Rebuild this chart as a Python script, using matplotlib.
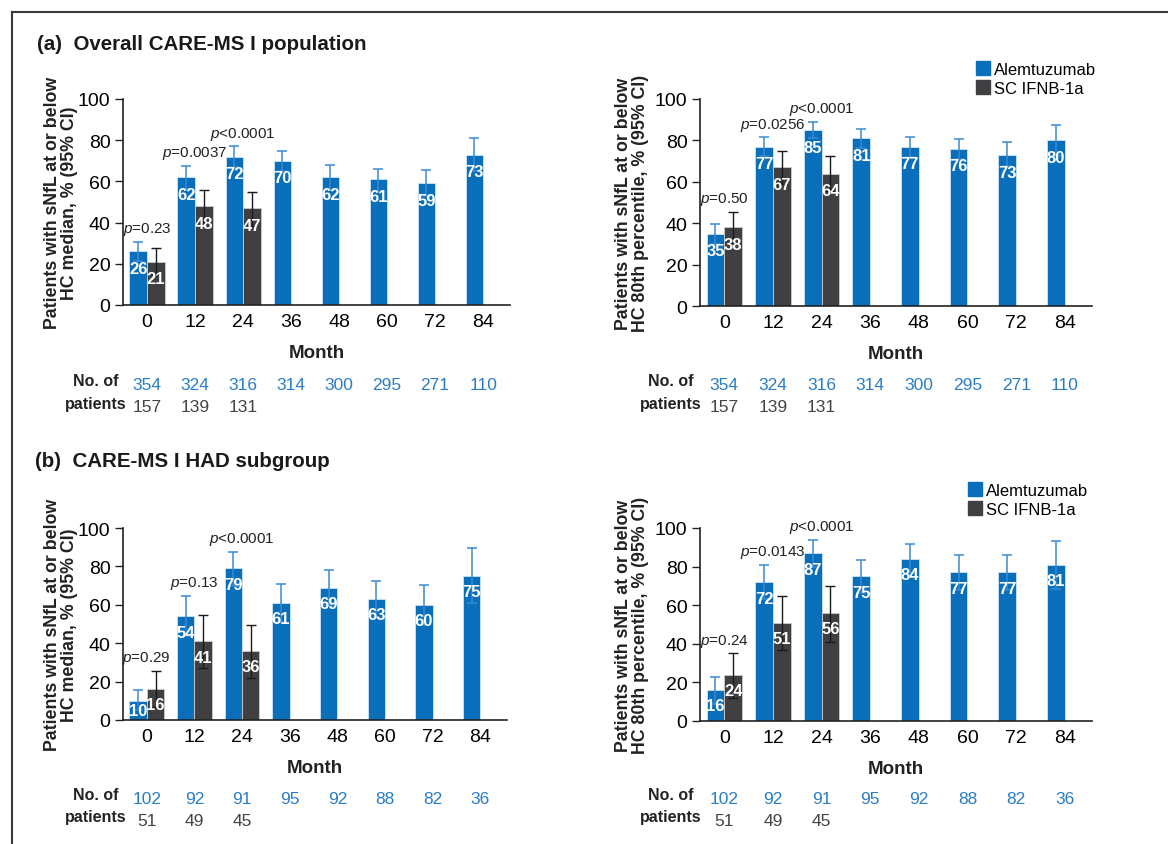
import matplotlib.pyplot as plt
import matplotlib.lines as mlines

plt.rcParams['font.family'] = ['Liberation Sans', 'DejaVu Sans']
plt.rcParams['mathtext.fontset'] = 'custom'
plt.rcParams['mathtext.it'] = 'Liberation Sans:italic'
plt.rcParams['mathtext.rm'] = 'Liberation Sans'

months = ['0', '12', '24', '36', '48', '60', '72', '84']

# (a) overall, HC median
a_med_alem = [26, 62, 72, 70, 62, 61, 59, 73]
a_med_alem_lo = [21.5, 56.5, 67, 65, 56, 55.5, 53, 65]
a_med_alem_hi = [30.5, 67.5, 77, 75, 68, 66, 65.5, 81]
a_med_ifn = [21, 48, 47]
a_med_ifn_lo = [15, 40, 38.5]
a_med_ifn_hi = [27.5, 56, 55]
a_med_p = ['=0.23', '=0.0037', '<0.0001']

# (a) overall, HC 80th percentile
a_p80_alem = [35, 77, 85, 81, 77, 76, 73, 80]
a_p80_alem_lo = [30, 72.5, 81, 76.5, 72, 71, 67.5, 72.5]
a_p80_alem_hi = [39.5, 81.5, 89, 85.5, 81.5, 80.5, 79, 87.5]
a_p80_ifn = [38, 67, 64]
a_p80_ifn_lo = [30.5, 59, 55.5]
a_p80_ifn_hi = [45.5, 75, 72.5]
a_p80_p = ['=0.50', '=0.0256', '<0.0001']

# (b) HAD subgroup, HC median
b_med_alem = [10, 54, 79, 61, 69, 63, 60, 75]
b_med_alem_lo = [5, 44, 70, 51, 60, 53, 49.5, 61]
b_med_alem_hi = [15.5, 64.5, 87.5, 71, 78, 72.5, 70.5, 89.5]
b_med_ifn = [16, 41, 36]
b_med_ifn_lo = [7, 27, 22]
b_med_ifn_hi = [25.5, 54.5, 49.5]
b_med_p = ['=0.29', '=0.13', '<0.0001']

# (b) HAD subgroup, HC 80th percentile
b_p80_alem = [16, 72, 87, 75, 84, 77, 77, 81]
b_p80_alem_lo = [9, 63, 80, 66.5, 76.5, 68, 68, 68.5]
b_p80_alem_hi = [23, 81, 94, 83.5, 91.5, 86, 86, 93.5]
b_p80_ifn = [24, 51, 56]
b_p80_ifn_lo = [12, 37, 41]
b_p80_ifn_hi = [35, 65, 70]
b_p80_p = ['=0.24', '=0.0143', '<0.0001']

a_n_alem = ['354', '324', '316', '314', '300', '295', '271', '110']
a_n_ifn = ['157', '139', '131']
b_n_alem = ['102', '92', '91', '95', '92', '88', '82', '36']
b_n_ifn = ['51', '49', '45']

BLUE = '#0a6fba'
BLUE_ERR = '#3a8ad6'
GRAY = '#404042'
NUM_BLUE = '#2a7dc6'
NUM_GRAY = '#444444'

W, H = 1168, 845
fig = plt.figure(figsize=(W / 100, H / 100), dpi=100)


def px_axes(left, top, right, bottom):
    return fig.add_axes([left / W, 1 - bottom / H, (right - left) / W, (bottom - top) / H])


def panel(box, alem, alo, ahi, ifn, ilo, ihi, pvals, ylab, ylab_x, n_alem, n_ifn,
          no_x, row_y, legend_xy=None):
    left, top, right, bottom = box
    ax = px_axes(left, top, right, bottom)
    x = list(range(len(months)))
    bw = 0.365
    xa = [i - bw / 2 for i in x]
    xi = [i + bw / 2 for i in x[:len(ifn)]]
    ax.bar(xa, alem, bw, color=BLUE, edgecolor='#cfe3f5', linewidth=0.6, zorder=2)
    ax.bar(xi, ifn, bw, color=GRAY, edgecolor='#cccccc', linewidth=0.6, zorder=2)
    ax.errorbar(xa, alem, yerr=[[a - l for a, l in zip(alem, alo)], [h - a for a, h in zip(alem, ahi)]],
                fmt='none', ecolor=BLUE_ERR, elinewidth=1.1, capsize=3.5, capthick=1.1, zorder=3)
    ax.errorbar(xi, ifn, yerr=[[a - l for a, l in zip(ifn, ilo)], [h - a for a, h in zip(ifn, ihi)]],
                fmt='none', ecolor='#1a1a1a', elinewidth=1.0, capsize=3.5, capthick=1.0, zorder=3)
    for xx, v in list(zip(xa, alem)) + list(zip(xi, ifn)):
        ypos = max(v - 8.3, v * 0.5)
        ax.text(xx, ypos, str(v), ha='center', va='center', color='white',
                fontsize=12, fontweight='bold', zorder=4)
    for i, p in enumerate(pvals):
        top_ci = max(ahi[i], ihi[i])
        ax.annotate('$p$' + p, (x[i], top_ci), xytext=(0, 9.5), textcoords='offset points',
                    ha='center', va='center', fontsize=11, color='#222222')
    ax.set_ylim(0, 100)
    ax.set_xlim(-0.5, 7.56)
    ax.set_yticks([0, 20, 40, 60, 80, 100])
    ax.set_xticks(x)
    ax.set_xticklabels(months)
    ax.tick_params(axis='y', direction='out', length=6, width=1, labelsize=14, pad=3, color='#222222')
    ax.tick_params(axis='x', length=0, labelsize=14, pad=6)
    for s in ['top', 'right']:
        ax.spines[s].set_visible(False)
    for s in ['left', 'bottom']:
        ax.spines[s].set_linewidth(1.2)
        ax.spines[s].set_color('#222222')
    ax.patch.set_alpha(0)

    cy = (top + bottom) / 2
    fig.text(ylab_x / W, 1 - cy / H, ylab, rotation=90, ha='center', va='center',
             fontsize=12.8, fontweight='bold', linespacing=1.05, color='#222222')
    fig.text((left + right) / 2 / W, 1 - (bottom + 48) / H, 'Month', ha='center', va='center',
             fontsize=13.5, fontweight='bold', color='#222222')

    # number-of-patients table
    fig.text(no_x / W, 1 - (row_y - 4) / H, 'No. of', ha='center', va='center',
             fontsize=11.5, fontweight='bold', color='#222222')
    fig.text(no_x / W, 1 - (row_y + 18) / H, 'patients', ha='center', va='center',
             fontsize=11.5, fontweight='bold', color='#222222')
    inv = fig.transFigure.inverted()
    for i, n in enumerate(n_alem):
        xf = inv.transform(ax.transData.transform((x[i], 0)))[0]
        fig.text(xf, 1 - row_y / H, n, ha='center', va='center', fontsize=12.5, color=NUM_BLUE)
    for i, n in enumerate(n_ifn):
        xf = inv.transform(ax.transData.transform((x[i], 0)))[0]
        fig.text(xf, 1 - (row_y + 22) / H, n, ha='center', va='center', fontsize=12.5, color=NUM_GRAY)

    if legend_xy is not None:
        h1 = mlines.Line2D([], [], color=BLUE, marker='s', linestyle='none', markersize=10)
        h2 = mlines.Line2D([], [], color=GRAY, marker='s', linestyle='none', markersize=10)
        fig.legend([h1, h2], ['Alemtuzumab', 'SC IFNB-1a'], loc='upper left',
                   bbox_to_anchor=(legend_xy[0] / W, 1 - legend_xy[1] / H), frameon=False,
                   fontsize=12, handlelength=0.8, handletextpad=0.3, labelspacing=0.25,
                   borderpad=0, borderaxespad=0)
    return ax


ylab_med = 'Patients with sNfL at or below\nHC median, % (95% CI)'
ylab_p80 = 'Patients with sNfL at or below\nHC 80th percentile, % (95% CI)'

panel((123, 100, 510, 306), a_med_alem, a_med_alem_lo, a_med_alem_hi, a_med_ifn, a_med_ifn_lo,
      a_med_ifn_hi, a_med_p, ylab_med, 61, a_n_alem, a_n_ifn, 96, 386)
panel((700, 100, 1092, 307), a_p80_alem, a_p80_alem_lo, a_p80_alem_hi, a_p80_ifn, a_p80_ifn_lo,
      a_p80_ifn_hi, a_p80_p, ylab_p80, 632, a_n_alem, a_n_ifn, 671, 386, legend_xy=(976, 63))
panel((123, 529, 507, 721), b_med_alem, b_med_alem_lo, b_med_alem_hi, b_med_ifn, b_med_ifn_lo,
      b_med_ifn_hi, b_med_p, ylab_med, 61, b_n_alem, b_n_ifn, 96, 800)
panel((700, 529, 1092, 722), b_p80_alem, b_p80_alem_lo, b_p80_alem_hi, b_p80_ifn, b_p80_ifn_lo,
      b_p80_ifn_hi, b_p80_p, ylab_p80, 632, b_n_alem, b_n_ifn, 671, 800, legend_xy=(968, 484))

fig.text(37 / W, 1 - 45 / H, '(a)  Overall CARE-MS I population', ha='left', va='center',
         fontsize=14.8, fontweight='bold', color='#1a1a1a')
fig.text(35 / W, 1 - 462 / H, '(b)  CARE-MS I HAD subgroup', ha='left', va='center',
         fontsize=14.8, fontweight='bold', color='#1a1a1a')

# outer frame (cropped at right and bottom)
fig.add_artist(mlines.Line2D([12 / W, 12 / W], [0, 1 - 13 / H], transform=fig.transFigure,
                             color='#3a3a3a', linewidth=1.5))
fig.add_artist(mlines.Line2D([12 / W, 1], [1 - 13 / H, 1 - 13 / H], transform=fig.transFigure,
                             color='#3a3a3a', linewidth=1.5))

fig.savefig('out.png', dpi=100)
